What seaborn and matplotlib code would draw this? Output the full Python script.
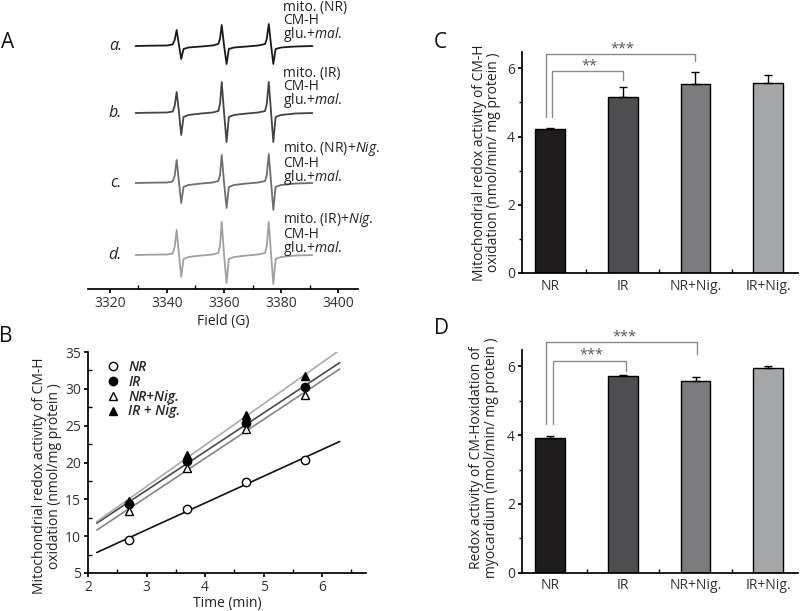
import numpy as np
import matplotlib
matplotlib.use('Agg')
import matplotlib.pyplot as plt
import seaborn as sns
from matplotlib.lines import Line2D
from matplotlib.ticker import MultipleLocator

sns.set_theme(style='ticks')
plt.rcParams['font.family'] = ['Open Sans', 'DejaVu Sans']
plt.rcParams['axes.edgecolor'] = 'black'
plt.rcParams['xtick.color'] = 'black'
plt.rcParams['ytick.color'] = 'black'
plt.rcParams['xtick.labelcolor'] = '#333333'
plt.rcParams['ytick.labelcolor'] = '#333333'

# ---- panel A: EPR spectra (amplitude in pixels) ----
field = [3329, 3334, 3340, 3342.0, 3342.7, 3343.4, 3344.2, 3345.0, 3345.8, 3347.5,
         3352, 3356, 3358.0, 3358.6, 3359.2, 3360.0, 3360.9, 3361.7, 3363.5,
         3368, 3372, 3374.4, 3375.0, 3375.7, 3376.5, 3377.3, 3378.1, 3380, 3385, 3391]
spec_a = [0, 0.3, 0.5, 1.5, 6, 16, 1, -13, -3, -1.5,
          -0.5, 0.5, 2, 7, 21, 1, -18, -3, -1.5,
          -0.5, 0.5, 2, 7, 22, 1, -18, -3, -1.5, -0.5, 0]
spec_b = [0, 0.3, 0.5, 1.5, 7, 21, 1, -22, -4, -2,
          -0.5, 0.5, 2, 9, 31, 1, -29, -4, -2,
          -0.5, 0.5, 2, 9, 31, 1, -29, -4, -2, -0.5, 0]
spec_c = [0, 0.3, 0.5, 1.5, 7, 23, 1, -20, -4, -2,
          -0.5, 0.5, 2, 8, 28, 1, -25, -4, -2,
          -0.5, 0.5, 2, 8, 29, 1, -27, -4, -2, -0.5, 0]
spec_d = [0, 0.3, 0.5, 1.5, 8, 25, 1, -22, -4, -2,
          -0.5, 0.5, 2, 9, 33, 1, -28, -4, -2,
          -0.5, 0.5, 2, 9, 33, 1, -29, -4, -2, -0.5, 0]
spec_tags = ['a.', 'b.', 'c.', 'd.']
spec_notes = ['mito. (NR)\nCM-H\nglu.+$\\it{mal.}$',
              'mito. (IR)\nCM-H\nglu.+$\\it{mal.}$',
              'mito. (NR)+$\\it{Nig.}$\nCM-H\nglu.+$\\it{mal.}$',
              'mito. (IR)+$\\it{Nig.}$\nCM-H\nglu.+$\\it{mal.}$']

# ---- panel B: CM-H oxidation vs time ----
time_min = [2.7, 3.7, 4.7, 5.7]
b_labels = ['NR', 'IR', 'NR+Nig.', 'IR + Nig.']
b_nr = [9.5, 13.7, 17.3, 20.4]
b_ir = [14.4, 20.2, 25.3, 30.2]
b_nr_nig = [13.4, 19.3, 24.6, 29.2]
b_ir_nig = [14.8, 21.0, 26.4, 31.7]

# ---- panels C and D: bar charts ----
groups = ['NR', 'IR', 'NR+Nig.', 'IR+Nig.']
c_mean = [4.22, 5.17, 5.53, 5.56]
c_err = [0.04, 0.29, 0.37, 0.25]
d_mean = [3.93, 5.71, 5.57, 5.96]
d_err = [0.06, 0.03, 0.11, 0.04]

plt.rcParams['mathtext.fontset'] = 'custom'
plt.rcParams['mathtext.it'] = 'Open Sans:italic'
plt.rcParams['mathtext.rm'] = 'Open Sans'

W, H = 800, 611
fig = plt.figure(figsize=(8, 6.11), dpi=100)


def px_axes(left, top, right, bottom):
    return fig.add_axes([left / W, 1 - bottom / H, (right - left) / W, (bottom - top) / H])


# ---------------- A ----------------
axA = px_axes(88, 0, 358, 289)
spec_colors = ['#1a1a1a', '#444444', '#6e6e6e', '#a0a0a0']
offsets = [-46, -113, -183, -255]
note_tops = [0, -66, -140, -211]
for spec, col, off, tag, note, top in zip([spec_a, spec_b, spec_c, spec_d], spec_colors,
                                           offsets, spec_tags, spec_notes, note_tops):
    sns.lineplot(x=field, y=np.array(spec) + off, color=col, lw=1.3, ax=axA, sort=False)
    axA.text(3324.2, off, tag, ha='right', va='center', fontsize=11.5, style='italic', color='#222222')
    axA.text(3380.6, top, note, ha='left', va='top', fontsize=10, linespacing=0.8,
             color='#222222')
axA.set_xlim(3312.3, 3407)
axA.set_ylim(-289, 0)
for s in ['left', 'top', 'right']:
    axA.spines[s].set_visible(False)
axA.set_yticks([])
axA.xaxis.set_major_locator(MultipleLocator(20))
axA.xaxis.set_minor_locator(MultipleLocator(10))
axA.tick_params(axis='x', which='major', direction='out', length=3, labelsize=10, pad=2)
axA.tick_params(axis='x', which='minor', direction='in', length=3)
axA.set_xlabel('Field (G)', fontsize=10, labelpad=2, color='#222222')

# ---------------- B ----------------
axB = px_axes(88, 352, 366, 573)
line_cols = ['#111111', '#4a4a4a', '#858585', '#ababab']
markers = ['o', 'o', '^', '^']
faces = ['white', 'black', 'white', 'black']
series = [b_nr, b_ir, b_nr_nig, b_ir_nig]
x_fit = np.array([2.15, 6.3])
for vals, col in zip(series, line_cols):
    k, b = np.polyfit(time_min, vals, 1)
    sns.lineplot(x=x_fit, y=k * x_fit + b, color=col, lw=1.2, ax=axB)
handles = []
for vals, m, fc, lab in zip(series, markers, faces, b_labels):
    axB.plot(time_min, vals, ls='none', marker=m, ms=6, mfc=fc, mec='black', mew=1, zorder=5)
    handles.append(Line2D([], [], ls='none', marker=m, ms=6, mfc=fc, mec='black', mew=1, label=lab))
leg = axB.legend(handles=handles, loc='upper left', bbox_to_anchor=(0.035, 1.0), frameon=False,
                 handlelength=1.0, handletextpad=0.6, labelspacing=0.05, borderaxespad=0.2,
                 prop={'size': 10, 'style': 'italic', 'weight': 'semibold'})
axB.set_xlim(2, 6.75)
axB.set_ylim(5, 35)
sns.despine(ax=axB)
axB.xaxis.set_major_locator(MultipleLocator(1))
axB.xaxis.set_minor_locator(MultipleLocator(0.5))
axB.yaxis.set_major_locator(MultipleLocator(5))
axB.yaxis.set_minor_locator(MultipleLocator(2.5))
axB.tick_params(which='major', direction='out', length=3, labelsize=10, pad=2)
axB.tick_params(which='minor', direction='in', length=3)
axB.set_xlabel('Time (min)', fontsize=10, labelpad=1, color='#222222')
axB.set_ylabel('Mitochondrial redox activity of CM-H\noxidation (nmol/mg protein )',
               fontsize=10, linespacing=0.95, color='#222222')
axB.yaxis.set_label_coords(-0.095, 0.44)

# ---------------- C & D ----------------
bar_cols = ['#1f1c1d', '#4e4e50', '#7b7b7d', '#a6a7a9']


def bar_panel(ax, means, errs, ylabel, label_xy, brackets):
    sns.barplot(x=groups, y=means, hue=groups, palette=bar_cols, legend=False, width=0.41,
                edgecolor='black', linewidth=1, ax=ax)
    ax.errorbar(range(len(groups)), means, yerr=[np.zeros(len(errs)), errs], fmt='none',
                ecolor='black', elinewidth=1, capsize=3, capthick=1)
    ax.set_xlim(-0.39, 3.41)
    ax.set_ylim(0, 6.48)
    sns.despine(ax=ax)
    ax.yaxis.set_major_locator(MultipleLocator(2))
    ax.yaxis.set_minor_locator(MultipleLocator(1))
    ax.xaxis.set_minor_locator(MultipleLocator(1, offset=0.5))
    ax.tick_params(axis='x', which='major', length=0, labelsize=10, pad=4)
    ax.tick_params(axis='x', which='minor', direction='in', length=3)
    ax.tick_params(axis='y', which='major', direction='out', length=3, labelsize=10, pad=2)
    ax.tick_params(axis='y', which='minor', direction='out', length=2)
    ax.set_ylabel(ylabel, fontsize=10, linespacing=0.95, color='#222222')
    ax.yaxis.set_label_coords(*label_xy)
    for x0, x1, y, y0, y1, stars in brackets:
        ax.plot([x0, x0, x1, x1], [y0, y, y, y1], color='#8a8a8a', lw=1, clip_on=False)
        ax.text((x0 + x1) / 2 + 0.03, y - 0.06, stars, ha='center', va='bottom', fontsize=10.5,
                color='#555555', clip_on=False)


axC = px_axes(521.7, 52, 798, 273)
bar_panel(axC, c_mean, c_err,
          'Mitochondrial redox activity of CM-H\noxidation (nmol/min/ mg protein )',
          (-0.075, 0.5),
          [(-0.06, 2.0, 6.41, 4.57, 6.22, '***'), (0.02, 1.0, 5.92, 4.57, 5.66, '**')])

axD = px_axes(522, 350, 798, 572.7)
bar_panel(axD, d_mean, d_err,
          'Redox activity of CM-Hoxidation of\nmyocardium (nmol/min/ mg protein )',
          (-0.085, 0.515),
          [(-0.055, 2.02, 6.71, 4.34, 6.35, '***'), (0.03, 1.04, 6.17, 4.34, 5.86, '***')])

# panel letters
for lab, x, y in [('A', 8, 43), ('B', 6, 336), ('C', 440, 43), ('D', 441, 328)]:
    fig.text(x / W, 1 - y / H, lab, ha='center', va='center', fontsize=15, color='#111111')

fig.savefig('out.png', dpi=100)
